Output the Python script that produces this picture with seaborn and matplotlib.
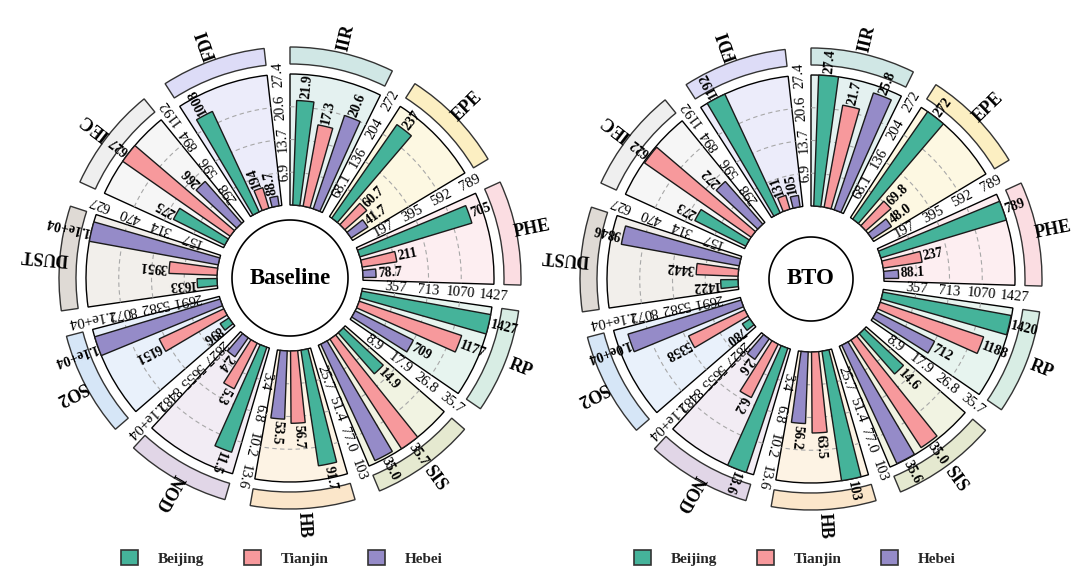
import numpy as np
import matplotlib
matplotlib.use("Agg")
import matplotlib.pyplot as plt
import seaborn as sns
from matplotlib.patches import Patch

sns.set_theme(style="white")
plt.rcParams['font.family'] = ['Liberation Serif', 'DejaVu Serif']

# ---------------- data ----------------
categories = ["IIR", "EPE", "PHE", "RP", "SIS", "HB", "NOD", "SO2", "DUST", "IEC", "FDI"]
regions = ["Beijing", "Tianjin", "Hebei"]

baseline_beijing = [21.9, 237, 705, 1426.8, 14.9, 91.7, 11.5, 896, 1633, 275, 1008]
baseline_tianjin = [17.3, 60.7, 211, 1177, 35.72, 56.7, 5.3, 6151, 3951, 627, 194]
baseline_hebei = [20.6, 41.7, 78.7, 709, 35.0, 53.5, 2.4, 11309.5, 10763.1, 266, 88.7]

bto_beijing = [27.42, 272.4, 789.4, 1420, 14.6, 102.72, 13.6, 780, 1422, 273, 1192]
bto_tianjin = [21.7, 69.8, 237, 1188, 35.0, 63.5, 6.2, 5358, 3442, 622, 131]
bto_hebei = [25.8, 48.0, 88.1, 712, 35.6, 56.2, 2.6, 10200, 9846, 272, 105]

scenarios = ["Baseline", "BTO"]

# ---------------- styles ----------------
bar_colors = ["#45b39a", "#f7999c", "#958bc8"]
sector_fill = ["#e4f1f0", "#fdf8e2", "#fdeef1", "#e7f4ef", "#f1f3e2", "#fdf3e4",
               "#f2ecf4", "#e9f1fb", "#f2efeb", "#f6f6f6", "#ececfa"]
band_fill = ["#d0e7e5", "#fcefc2", "#fbdde2", "#d8ede4", "#e5e9d0", "#fbe6ca",
             "#e1d6e7", "#d6e6f7", "#dfdad5", "#efefef", "#dddcf7"]

R0, R1 = 73, 204          # radial extent of the value range
BAND0, BAND1 = 214, 231
LABEL_R = 247
SLOT = 360 / len(categories)
SECTOR_W = 26.3
BAR_W = 5.6
BAR_OFF = [4.95, 13.15, 21.35]
TICK_OFF = -3.2


def fmt(v):
    if v >= 1e4:
        return f"{v:.1e}"
    if v >= 100:
        return f"{v:.0f}"
    return f"{v:.1f}"


base_vals = [baseline_beijing, baseline_tianjin, baseline_hebei]
bto_vals = [bto_beijing, bto_tianjin, bto_hebei]
cat_max = [max(max(s[i] for s in base_vals), max(s[i] for s in bto_vals))
           for i in range(len(categories))]

fig = plt.figure(figsize=(10.8, 5.73), dpi=100)
RMAX = 275
centers = [(290, 278), (811, 279)]
hole_r = [58, 42]


def draw(ax, vals, title, hole):
    ax.set_theta_zero_location("N")
    ax.set_theta_direction(-1)
    ax.set_ylim(0, RMAX)
    ax.set_axis_off()
    for i, cat in enumerate(categories):
        s = i * SLOT
        mx = cat_max[i]
        tc = np.deg2rad(s + SECTOR_W / 2)
        # sector background
        ax.bar(tc, R1 - R0, width=np.deg2rad(SECTOR_W), bottom=R0,
               color=sector_fill[i], edgecolor="black", linewidth=1.0, zorder=1)
        # dashed grid arcs
        th = np.deg2rad(np.linspace(s, s + SECTOR_W, 60))
        for k in (1, 2, 3):
            ax.plot(th, np.full_like(th, R0 + (R1 - R0) * k / 4), ls=(0, (4, 3)),
                    color="#a8a8a8", lw=0.8, zorder=1.5)
        # ticks
        tt = s + TICK_OFF
        for k in (1, 2, 3, 4):
            ax.text(np.deg2rad(tt), R0 + (R1 - R0) * k / 4, fmt(mx * k / 4),
                    rotation=90 - tt, rotation_mode="anchor", ha="center",
                    va="center", fontsize=10.5, color="black", zorder=6)
        # bars
        for j in range(3):
            v = vals[j][i]
            h = v / mx * (R1 - R0)
            bt = s + BAR_OFF[j]
            ax.bar(np.deg2rad(bt), h, width=np.deg2rad(BAR_W), bottom=R0,
                   color=bar_colors[j], edgecolor="#1a1a1a", linewidth=1.0, zorder=3)
            ax.text(np.deg2rad(bt), R0 + h + 2, fmt(v), rotation=90 - bt,
                    rotation_mode="anchor", ha="left", va="center",
                    fontsize=10, fontweight="bold", color="black", zorder=6)
        # outer band and name
        ax.bar(tc, BAND1 - BAND0, width=np.deg2rad(SECTOR_W), bottom=BAND0,
               color=band_fill[i], edgecolor="#333333", linewidth=1.0, zorder=4)
        ang = s + SECTOR_W / 2
        ax.text(np.deg2rad(ang), LABEL_R, cat, rotation=90 - ang,
                rotation_mode="anchor", ha="center", va="center",
                fontsize=13, fontweight="bold", color="black", zorder=6)
    full = np.linspace(0, 2 * np.pi, 300)
    ax.fill(full, np.full_like(full, hole), color="white", edgecolor="black",
            linewidth=1.2, zorder=5)
    ax.text(0, 0, title, ha="center", va="center", fontsize=16.5,
            fontweight="bold", color="black", zorder=7)


W, H = 1080, 573
for (cx, cy), name, vals, hr in zip(centers, scenarios, [base_vals, bto_vals], hole_r):
    ax = fig.add_axes([(cx - RMAX) / W, (H - cy - RMAX) / H, 2 * RMAX / W, 2 * RMAX / H],
                      projection="polar")
    draw(ax, vals, name, hr)

handles = [Patch(facecolor=c, edgecolor="#333333", linewidth=1.2) for c in bar_colors]
for cx in (282, 795):
    fig.legend(handles, regions, loc="center", bbox_to_anchor=(cx / W, 0.026),
               ncol=3, frameon=False, prop={"size": 11, "weight": "bold"},
               handlelength=1.1, handleheight=1.1, columnspacing=2.6,
               handletextpad=1.3)

fig.savefig("out.png", dpi=100, facecolor="white")
